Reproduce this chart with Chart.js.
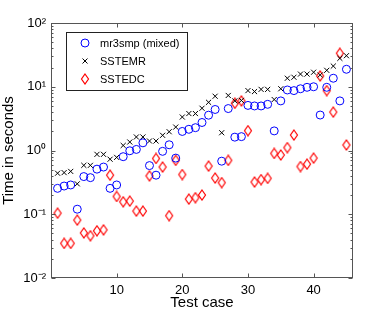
<!DOCTYPE html>
<html>
<head>
<meta charset="utf-8">
<script src="https://cdn.jsdelivr.net/npm/chart.js@4.4.1/dist/chart.umd.min.js"></script>
<style>
html,body{margin:0;padding:0;background:#fff;}
#wrap{width:390px;height:314px;position:relative;}
</style>
</head>
<body>
<div id="wrap"><canvas id="c" width="390" height="314"></canvas></div>
<script>
// ---- data ----
const testCases = Array.from({length:45},(_, k)=>k+1);
const mr3smp = [0.255,0.277,0.288,0.12,0.39,0.375,0.51,0.55,0.255,0.288,
  0.80,0.99,1.04,1.32,0.58,0.41,0.97,1.23,0.76,1.99,
  2.15,2.28,2.75,3.58,4.4,0.68,4.55,1.62,1.65,5.1,
  5.0,5.0,5.3,2.03,6.0,8.9,8.7,9.3,9.8,10.0,
  3.6,9.8,13.6,6.0,18.8];
const sstemr = [0.44,0.45,0.47,0.30,0.585,0.585,0.87,0.87,0.73,0.78,
  1.2,1.36,1.63,1.63,1.41,1.41,1.73,1.97,2.33,3.35,
  3.8,3.8,4.6,5.7,7.1,1.9,7.3,6.0,6.1,8.7,
  8.4,9.1,9.1,6.3,9.3,13.6,14.1,15.8,15.8,16.9,
  15.3,18.1,21.1,27.9,30.7];
const sstedc = [0.104,0.035,0.035,0.081,0.051,0.046,0.055,0.057,0.41,0.19,
  0.157,0.161,0.112,0.112,0.40,0.75,0.55,0.095,0.70,0.42,
  0.173,0.182,0.20,0.57,0.37,0.314,0.70,5.5,6.0,2.05,
  0.32,0.35,0.366,0.90,0.85,1.11,1.75,0.56,0.61,0.76,
  14.8,8.7,4.0,33.5,1.22];
const seriesNames = ['mr3smp (mixed)','SSTEMR','SSTEDC'];
const xTicks = [10,20,30,40];
const yTicks = [0.01,0.1,1,10,100];
const yTickLabels = ['10\u207B\u00B2','10\u207B\u00B9','10\u2070','10\u00B9','10\u00B2'];

// ---- styles ----
const FONT = '"Liberation Sans", Arial, Helvetica, sans-serif';
const BLUE = 'rgb(0,0,255)';
const RED = 'rgb(255,0,0)';
const AXIS = '#555';

function makeDiamond(){
  const cv = document.createElement('canvas');
  cv.width = 10; cv.height = 12;
  const g = cv.getContext('2d');
  g.strokeStyle = RED; g.lineWidth = 1.2;
  g.beginPath();
  g.moveTo(5,1); g.lineTo(8.5,6); g.lineTo(5,11); g.lineTo(1.5,6); g.closePath();
  g.stroke();
  return cv;
}
const diamond = makeDiamond();

const frame = {
  id:'frame',
  afterDatasetsDraw(chart){
    const {ctx, chartArea:a, scales:{x,y}} = chart;
    ctx.save();
    ctx.strokeStyle = AXIS; ctx.lineWidth = 1;
    const L = Math.round(a.left)+0.5, R = Math.round(a.right)-0.5, T = Math.round(a.top)+0.5, B = Math.round(a.bottom)-0.5;
    ctx.strokeRect(L, T, R-L, B-T);
    ctx.beginPath();
    xTicks.forEach(v=>{
      const px = Math.round(x.getPixelForValue(v))+0.5;
      ctx.moveTo(px,B); ctx.lineTo(px,B-4);
      ctx.moveTo(px,T); ctx.lineTo(px,T+4);
    });
    for(let e=-2;e<=2;e++){
      for(let m=1;m<=9;m++){
        const v = m*Math.pow(10,e);
        if(v>100.0001) break;
        const py = Math.round(y.getPixelForValue(v))+0.5;
        const len = m===1?4:2;
        ctx.moveTo(L,py); ctx.lineTo(L+len,py);
        ctx.moveTo(R,py); ctx.lineTo(R-len,py);
      }
    }
    ctx.stroke();

    // legend
    const lx=66.5, ly=32.5, lw=121, lh=58;
    ctx.fillStyle='#fff'; ctx.fillRect(lx,ly,lw,lh);
    ctx.strokeStyle='#222'; ctx.strokeRect(lx,ly,lw,lh);
    const rows=[43,61,79];
    ctx.font = '11px '+FONT; ctx.fillStyle='#000'; ctx.textBaseline='middle'; ctx.textAlign='left';
    const mx = 85;
    ctx.strokeStyle=BLUE; ctx.beginPath(); ctx.arc(mx,rows[0],4,0,Math.PI*2); ctx.stroke();
    ctx.strokeStyle='#000'; ctx.beginPath();
    ctx.moveTo(mx-2.5,rows[1]-2.5); ctx.lineTo(mx+2.5,rows[1]+2.5);
    ctx.moveTo(mx+2.5,rows[1]-2.5); ctx.lineTo(mx-2.5,rows[1]+2.5); ctx.stroke();
    ctx.drawImage(diamond, mx-5, rows[2]-6);
    seriesNames.forEach((n,i)=>ctx.fillText(n,100,rows[i]+0.5));
    ctx.restore();
  }
};

new Chart(document.getElementById('c'),{
  type:'scatter',
  data:{
    datasets:[
      {label:seriesNames[0], data:testCases.map((t,i)=>({x:t,y:mr3smp[i]})),
       pointStyle:'circle', pointRadius:4, borderColor:BLUE, backgroundColor:'transparent', borderWidth:1, showLine:false},
      {label:seriesNames[1], data:testCases.map((t,i)=>({x:t,y:sstemr[i]})),
       pointStyle:'crossRot', pointRadius:3.6, borderColor:'#000', backgroundColor:'#000', borderWidth:1, showLine:false},
      {label:seriesNames[2], data:testCases.map((t,i)=>({x:t,y:sstedc[i]})),
       pointStyle:diamond, pointRadius:5, borderColor:RED, backgroundColor:'transparent', borderWidth:1, showLine:false}
    ]
  },
  options:{
    responsive:false, animation:false, devicePixelRatio:1,
    layout:{padding:{top:23,right:37,left:0,bottom:0}},
    plugins:{legend:{display:false}, tooltip:{enabled:false}},
    scales:{
      x:{type:'linear', min:0, max:46,
         afterBuildTicks:s=>{s.ticks = xTicks.map(v=>({value:v}));},
         afterFit:s=>{s.height=36;},
         grid:{display:false, drawTicks:false}, border:{display:false},
         ticks:{font:{family:FONT,size:13}, color:'#000', padding:5, maxRotation:0, autoSkip:false},
         title:{display:true, text:'Test case', font:{family:FONT,size:15}, color:'#000', padding:{top:0,bottom:2}}
      },
      y:{type:'logarithmic', min:0.01, max:100,
         afterBuildTicks:s=>{s.ticks = yTicks.map(v=>({value:v}));},
         afterFit:s=>{s.width=51;},
         grid:{display:false, drawTicks:false}, border:{display:false},
         ticks:{font:{family:FONT,size:13}, color:'#000', padding:5, autoSkip:false,
           callback:(v)=>{const i=yTicks.findIndex(t=>Math.abs(t-v)<t*1e-6); return i>=0?yTickLabels[i]:'';}},
         title:{display:true, text:'Time in seconds', font:{family:FONT,size:15}, color:'#000', padding:{top:0,bottom:0}}
      }
    }
  },
  plugins:[frame]
});
</script>
</body>
</html>
